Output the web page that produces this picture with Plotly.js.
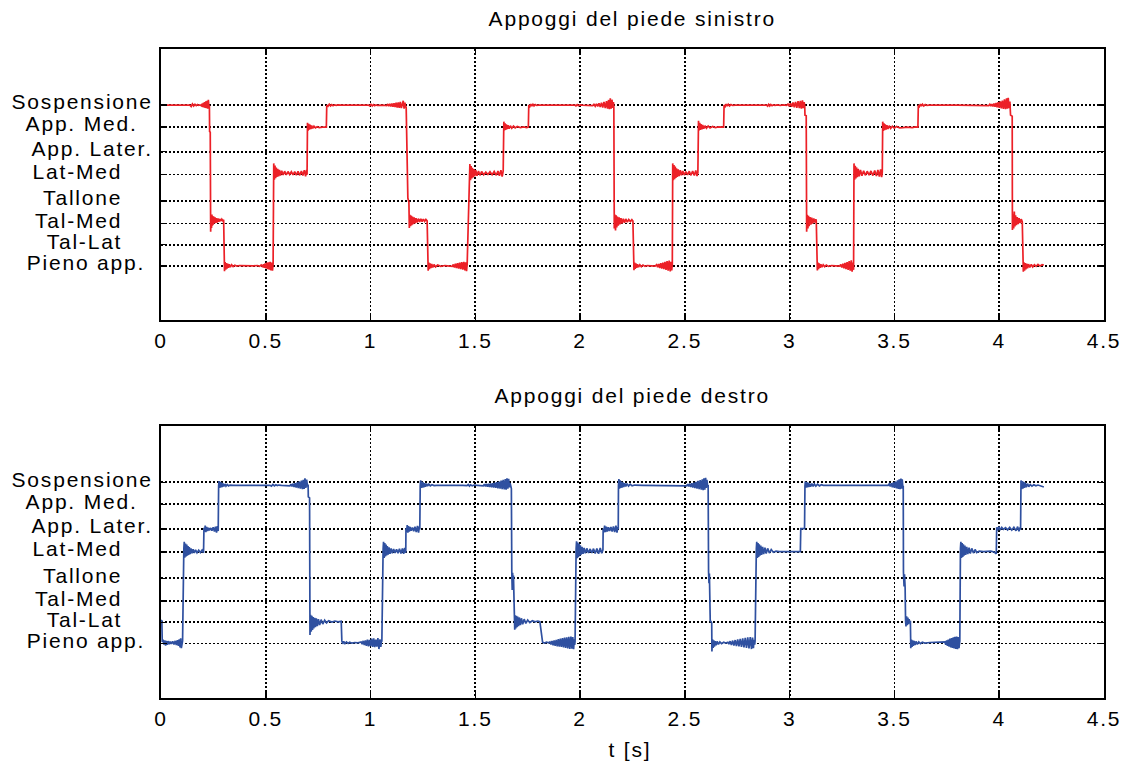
<!DOCTYPE html>
<html><head><meta charset="utf-8">
<script src="https://cdn.plot.ly/plotly-3.0.1.min.js"></script>
<style>
html,body{margin:0;padding:0;background:#fff;}
#chart{width:1133px;height:765px;}
#chart .main-svg text{letter-spacing:1.8px;}
</style></head><body><div id="chart"></div>
<script>
// Support phases (y position of each category on the axis, in % of plot height)
const levelNames = ['Sospensione','App. Med.','App. Later.','Lat-Med','Tallone','Tal-Med','Tal-Lat','Pieno app.'];
const levelValues = [79.3, 71.2, 62.1, 53.7, 44.0, 35.6, 27.8, 20.0];
const xTicks = [0, 0.5, 1, 1.5, 2, 2.5, 3, 3.5, 4, 4.5];

// Left foot: [t (s), level position]
const leftFoot = [
[0,79.3],[0.138,79.3],
[0.144,78.8],[0.150,79.7],[0.156,79.0],[0.162,79.6],[0.168,79.1],[0.174,79.5],[0.180,79.2],[0.186,79.4],[0.192,79.1],
[0.196,79.8],[0.199,78.6],[0.202,80.1],[0.205,78.5],[0.208,80.4],[0.211,78.3],[0.214,80.7],[0.217,78.2],[0.220,80.9],[0.223,78.0],[0.226,81.3],[0.229,78.4],[0.231,79.2],
[0.232,69.5],[0.235,69.3],
[0.237,32.6],[0.239,38.6],[0.241,34.0],[0.243,38.9],[0.245,34.8],[0.247,38.4],[0.249,35.2],[0.252,38.2],[0.255,35.6],[0.258,37.9],[0.261,35.8],[0.264,37.6],[0.268,36.0],[0.272,37.5],[0.276,36.3],[0.280,37.3],[0.285,36.5],[0.290,37.2],[0.295,36.6],[0.299,37.0],
[0.301,21.0],[0.303,18.0],[0.306,21.4],[0.309,18.6],[0.312,21.0],[0.315,19.0],[0.318,20.8],[0.322,19.3],[0.326,20.6],[0.331,19.5],[0.337,20.4],[0.344,19.7],[0.352,20.2],[0.362,19.9],[0.375,20.1],[0.40,20.0],[0.44,20.0],[0.46,20.1],[0.47,19.8],[0.478,20.3],
[0.485,19.6],[0.489,20.6],[0.493,19.3],[0.497,20.9],[0.501,19.1],[0.505,21.2],[0.509,18.8],[0.513,21.3],[0.517,18.6],[0.521,21.5],[0.525,18.3],[0.529,21.2],[0.532,18.2],[0.535,20.8],
[0.538,57.8],[0.541,51.8],[0.544,57.0],[0.547,52.3],[0.550,56.3],[0.553,52.8],[0.557,55.8],[0.561,53.0],[0.565,55.4],[0.570,53.3],[0.576,55.1],[0.583,53.5],[0.590,54.9],[0.598,53.6],[0.606,54.8],[0.614,53.7],[0.622,54.7],[0.630,53.6],[0.638,54.8],[0.646,53.5],[0.654,54.9],[0.662,53.4],[0.670,55.0],[0.677,53.3],[0.684,55.3],[0.690,53.0],[0.695,55.4],[0.697,53.6],
[0.699,72.8],[0.702,69.9],[0.705,72.4],[0.708,70.3],[0.711,72.1],[0.715,70.5],[0.719,71.8],[0.724,70.7],[0.730,71.5],[0.737,70.9],[0.745,71.3],[0.755,71.0],[0.770,71.2],[0.789,71.2],
[0.791,79.3],[0.797,78.9],[0.803,79.6],[0.809,79.0],[0.815,79.5],[0.821,79.1],[0.828,79.4],[0.836,79.2],[0.845,79.4],[0.86,79.3],[0.95,79.3],
[0.99,79.3],[0.996,79.0],[1.002,79.6],[1.008,79.0],[1.014,79.5],[1.020,79.1],[1.026,79.4],[1.032,79.2],[1.040,79.3],[1.06,79.3],
[1.077,79.1],[1.082,79.7],[1.087,78.9],[1.092,79.8],[1.097,78.8],[1.102,79.9],[1.107,78.7],[1.112,80.0],[1.117,78.6],[1.122,80.2],[1.127,78.4],[1.132,80.3],[1.137,78.3],[1.142,80.5],[1.147,78.2],[1.152,80.6],[1.156,80.9],[1.160,78.0],[1.164,80.2],[1.168,78.6],
[1.170,78.5],[1.178,45.0],[1.183,43.5],[1.185,34.0],[1.188,38.8],[1.191,34.6],[1.194,38.5],[1.197,35.0],[1.200,38.2],[1.204,35.4],[1.208,37.9],[1.212,35.7],[1.217,37.6],[1.222,36.0],[1.228,37.4],[1.234,36.2],[1.240,37.3],[1.246,36.3],[1.252,37.2],[1.258,36.4],[1.264,37.1],[1.270,36.6],
[1.272,20.6],[1.275,18.2],[1.278,21.2],[1.281,18.8],[1.284,20.9],[1.288,19.2],[1.292,20.7],[1.297,19.4],[1.303,20.5],[1.310,19.6],[1.320,20.3],[1.335,19.8],[1.355,20.1],[1.375,20.0],
[1.390,19.8],[1.395,20.5],[1.400,19.4],[1.405,20.8],[1.410,19.2],[1.415,21.0],[1.420,19.0],[1.425,21.2],[1.430,18.8],[1.435,21.4],[1.440,18.6],[1.445,21.5],[1.450,18.3],[1.454,21.3],[1.458,18.0],[1.461,20.5],
[1.474,57.6],[1.477,51.6],[1.480,56.8],[1.483,52.2],[1.486,56.2],[1.489,52.6],[1.493,55.7],[1.497,53.0],[1.502,55.3],[1.508,53.2],[1.515,55.0],[1.522,53.4],[1.530,54.8],[1.540,53.6],[1.550,54.6],[1.560,53.7],[1.570,54.7],[1.580,53.6],[1.590,54.8],[1.600,53.4],[1.608,55.0],[1.615,53.2],[1.622,55.3],[1.628,52.9],[1.633,55.0],
[1.636,73.2],[1.639,70.0],[1.642,72.6],[1.645,70.2],[1.648,72.2],[1.652,70.5],[1.656,71.9],[1.661,70.6],[1.667,71.7],[1.674,70.8],[1.682,71.6],[1.690,70.9],[1.700,71.4],[1.715,71.0],[1.730,71.3],[1.745,71.0],[1.753,71.2],
[1.755,79.3],[1.760,78.8],[1.765,79.7],[1.770,78.9],[1.775,79.6],[1.780,79.0],[1.786,79.5],[1.793,79.2],[1.80,79.3],[1.90,79.3],[1.975,79.3],[1.980,79.0],[1.986,79.5],[1.992,79.1],[2.000,79.4],[2.010,79.3],[2.040,79.3],
[2.060,79.1],[2.066,79.6],[2.072,78.9],[2.078,79.8],[2.084,78.8],[2.090,80.0],[2.096,78.6],[2.102,80.2],[2.108,78.4],[2.114,80.5],[2.120,78.2],[2.126,80.8],[2.131,78.0],[2.136,81.2],[2.140,77.8],[2.144,81.8],[2.148,78.0],[2.152,81.3],[2.156,78.3],[2.159,80.4],
[2.161,78.5],[2.163,33.8],[2.166,38.9],[2.169,33.0],[2.172,38.6],[2.175,34.2],[2.178,38.2],[2.182,34.8],[2.186,37.9],[2.190,35.3],[2.195,37.6],[2.200,35.6],[2.206,37.4],[2.212,35.9],[2.218,37.3],[2.225,36.1],[2.232,37.1],[2.240,36.3],[2.247,37.0],[2.252,36.5],
[2.254,21.0],[2.257,18.4],[2.260,21.2],[2.263,18.9],[2.266,20.9],[2.270,19.3],[2.274,20.6],[2.279,19.5],[2.285,20.4],[2.292,19.7],[2.300,20.3],[2.310,19.8],[2.320,20.1],[2.340,20.0],[2.358,19.9],
[2.365,20.4],[2.370,19.5],[2.375,20.7],[2.380,19.2],[2.385,21.0],[2.390,19.0],[2.395,21.2],[2.400,18.8],[2.405,21.5],[2.410,18.5],[2.415,21.7],[2.420,18.2],[2.425,21.9],[2.430,17.9],[2.434,21.5],[2.437,18.3],[2.440,20.4],
[2.442,57.8],[2.445,51.6],[2.448,57.2],[2.451,52.0],[2.454,56.6],[2.457,52.4],[2.460,56.0],[2.464,52.8],[2.468,55.6],[2.473,53.1],[2.478,55.3],[2.484,53.4],[2.490,55.0],[2.497,53.5],[2.505,54.8],[2.513,53.6],[2.521,54.9],[2.529,53.4],[2.537,55.0],[2.545,53.3],[2.552,55.2],[2.558,53.1],[2.562,54.4],
[2.565,73.5],[2.568,70.0],[2.571,72.8],[2.574,70.2],[2.577,72.3],[2.581,70.4],[2.585,72.0],[2.590,70.6],[2.596,71.7],[2.603,70.8],[2.611,71.6],[2.620,70.9],[2.632,71.4],[2.645,71.0],[2.660,71.3],[2.675,71.1],[2.685,71.2],
[2.687,79.3],[2.692,78.8],[2.697,79.7],[2.702,78.9],[2.707,79.6],[2.713,79.0],[2.720,79.5],[2.728,79.2],[2.74,79.3],[2.85,79.3],
[2.890,79.3],[2.895,78.9],[2.900,79.6],[2.905,79.0],[2.910,79.5],[2.916,79.1],[2.922,79.4],[2.930,79.2],[2.940,79.4],[2.955,79.2],[2.970,79.4],[2.985,79.2],
[2.992,79.7],[2.998,78.9],[3.004,80.0],[3.010,78.7],[3.016,80.3],[3.022,78.5],[3.028,80.5],[3.034,78.3],[3.040,80.8],[3.046,78.2],[3.051,80.9],[3.056,78.0],[3.061,81.1],[3.065,78.2],[3.069,80.4],[3.072,79.0],
[3.073,75.6],[3.079,75.4],[3.081,32.6],[3.084,38.8],[3.087,33.8],[3.090,38.5],[3.093,34.6],[3.097,38.0],[3.101,35.2],[3.105,37.8],[3.110,35.6],[3.115,37.5],[3.120,36.0],[3.125,37.2],[3.127,36.6],
[3.129,20.8],[3.132,18.3],[3.135,21.2],[3.138,18.8],[3.141,20.9],[3.145,19.3],[3.149,20.6],[3.154,19.5],[3.160,20.4],[3.167,19.7],[3.175,20.3],[3.185,19.8],[3.200,20.1],[3.225,20.0],[3.239,19.9],
[3.244,20.5],[3.249,19.4],[3.254,20.8],[3.259,19.1],[3.264,21.1],[3.269,18.8],[3.274,21.4],[3.279,18.5],[3.284,21.7],[3.289,18.2],[3.294,22.0],[3.298,17.8],[3.302,21.2],[3.305,18.5],
[3.307,57.8],[3.310,51.8],[3.313,56.9],[3.316,52.2],[3.319,56.3],[3.323,52.7],[3.327,55.8],[3.332,53.0],[3.338,55.4],[3.345,53.2],[3.353,55.1],[3.361,53.4],[3.370,54.9],[3.379,53.5],[3.388,55.0],[3.397,53.3],[3.406,55.2],[3.414,53.1],[3.421,55.4],[3.428,52.9],[3.434,55.6],[3.439,52.7],[3.442,54.6],
[3.444,73.2],[3.447,69.8],[3.450,72.6],[3.453,70.1],[3.456,72.2],[3.460,70.3],[3.464,71.9],[3.469,70.5],[3.475,71.7],[3.482,70.7],[3.490,71.5],[3.499,70.8],[3.510,71.4],[3.525,70.9],[3.540,71.0],[3.560,71.2],[3.585,71.0],[3.600,71.3],[3.612,71.2],
[3.614,79.3],[3.619,78.8],[3.624,79.7],[3.629,78.9],[3.634,79.6],[3.640,79.0],[3.647,79.5],[3.655,79.2],[3.665,79.3],[3.80,79.3],[3.94,79.3],
[3.950,79.1],[3.955,79.6],[3.960,78.9],[3.965,79.7],[3.970,78.8],[3.975,79.9],[3.980,78.7],[3.985,80.1],[3.990,78.5],[3.995,80.4],[4.000,78.3],[4.005,80.7],[4.010,78.1],[4.015,81.0],[4.020,77.9],[4.025,81.4],[4.030,77.8],[4.035,81.8],[4.039,78.0],[4.043,82.0],[4.047,78.2],[4.051,80.6],[4.053,79.0],
[4.054,75.6],[4.062,75.2],[4.063,33.2],[4.066,39.0],[4.069,33.8],[4.072,40.0],[4.075,34.5],[4.078,38.6],[4.082,35.0],[4.086,38.0],[4.090,35.4],[4.095,37.6],[4.100,35.8],[4.105,37.2],[4.110,36.3],
[4.112,20.8],[4.115,17.8],[4.118,21.3],[4.121,18.2],[4.124,21.0],[4.127,18.7],[4.131,20.8],[4.135,19.1],[4.140,20.6],[4.146,19.4],[4.153,20.5],[4.160,19.6],[4.168,20.4],[4.176,19.8],[4.185,20.5],[4.195,19.9],[4.205,20.4],[4.213,20.3]
];

// Right foot: [t (s), level position]
const rightFoot = [
[0.000,28.6],[0.004,28.4],[0.006,20.6],[0.010,21.5],[0.014,19.6],[0.018,21.2],[0.022,19.3],[0.026,21.0],[0.030,19.6],[0.035,20.9],[0.040,19.8],[0.045,20.7],[0.050,19.9],[0.056,20.8],[0.062,19.7],[0.068,21.0],[0.073,19.5],[0.078,21.3],[0.083,19.2],[0.087,21.6],[0.091,18.6],[0.094,21.9],[0.097,18.3],[0.100,20.8],
[0.103,21.0],[0.109,55.0],[0.111,57.4],[0.114,51.6],[0.117,56.8],[0.120,52.0],[0.123,56.4],[0.126,52.3],[0.129,55.9],[0.132,52.6],[0.135,55.5],[0.139,52.9],[0.143,55.0],[0.148,53.2],[0.153,54.7],[0.159,53.3],[0.165,54.5],[0.172,53.4],[0.180,54.3],[0.188,53.5],[0.196,54.4],[0.203,53.4],
[0.205,62.6],[0.208,61.2],[0.211,63.4],[0.214,61.0],[0.218,62.9],[0.222,61.4],[0.226,62.6],[0.231,61.6],[0.237,62.5],[0.243,61.5],[0.249,62.8],[0.255,61.2],[0.260,63.0],[0.265,60.8],[0.269,63.2],[0.273,61.4],
[0.275,78.0],[0.277,79.8],[0.280,77.2],[0.283,79.5],[0.286,77.4],[0.289,79.2],[0.292,77.6],[0.296,78.9],[0.300,77.8],[0.305,78.7],[0.310,77.9],[0.316,78.5],[0.322,78.0],[0.330,78.3],[0.345,78.2],[0.45,78.2],
[0.52,78.2],[0.527,77.9],[0.534,78.5],[0.541,78.0],[0.548,78.4],[0.555,78.1],[0.562,78.3],[0.575,78.2],[0.600,78.2],
[0.615,78.0],[0.620,78.6],[0.625,77.8],[0.630,78.8],[0.635,77.6],[0.640,79.0],[0.645,77.4],[0.650,79.3],[0.655,77.2],[0.660,79.6],[0.665,77.0],[0.670,79.9],[0.675,76.8],[0.679,80.2],[0.683,76.9],[0.687,80.8],[0.691,77.2],[0.695,80.3],[0.699,77.8],[0.702,78.5],
[0.703,74.0],[0.709,73.6],[0.711,23.2],[0.714,30.6],[0.717,24.4],[0.720,30.2],[0.723,25.0],[0.726,29.8],[0.729,25.6],[0.733,29.5],[0.737,26.0],[0.741,29.3],[0.746,26.4],[0.751,29.0],[0.757,26.8],[0.764,28.8],[0.772,27.2],[0.781,28.6],[0.790,27.6],[0.800,28.4],[0.815,27.9],[0.830,28.3],[0.845,28.0],[0.860,28.2],
[0.863,21.0],[0.867,19.9],[0.872,20.8],[0.878,20.0],[0.885,20.6],[0.893,20.1],[0.900,20.5],[0.910,20.2],[0.925,20.4],[0.940,20.3],
[0.955,20.6],[0.960,19.8],[0.965,21.0],[0.970,19.5],[0.975,21.2],[0.980,19.2],[0.985,21.5],[0.990,19.0],[0.995,21.4],[1.000,19.1],[1.005,21.8],[1.010,18.8],[1.015,21.9],[1.020,18.7],[1.025,21.5],[1.030,18.9],[1.035,22.0],[1.040,18.0],[1.045,21.6],[1.049,18.8],[1.052,21.0],
[1.054,21.0],[1.060,55.0],[1.062,57.4],[1.065,51.5],[1.068,57.0],[1.071,52.0],[1.074,56.4],[1.077,52.4],[1.080,55.9],[1.084,52.7],[1.088,55.4],[1.093,53.0],[1.098,55.0],[1.104,53.2],[1.110,54.8],[1.117,53.3],[1.124,54.7],[1.131,53.2],[1.138,54.9],[1.145,53.1],[1.152,55.0],[1.158,53.0],[1.163,55.2],[1.168,53.4],
[1.169,62.4],[1.172,61.0],[1.175,63.6],[1.178,60.8],[1.181,63.2],[1.185,61.2],[1.189,62.9],[1.194,61.5],[1.200,62.7],[1.206,61.3],[1.212,63.0],[1.218,61.0],[1.224,63.3],[1.229,60.8],[1.233,63.0],[1.235,62.0],
[1.237,78.0],[1.239,80.0],[1.242,77.2],[1.245,79.6],[1.248,77.3],[1.251,79.3],[1.254,77.5],[1.258,79.0],[1.262,77.7],[1.267,78.8],[1.272,77.9],[1.278,78.6],[1.285,78.0],[1.293,78.4],[1.303,78.1],[1.315,78.2],[1.44,78.2],
[1.46,78.1],[1.466,78.5],[1.472,77.9],[1.478,78.4],[1.485,78.0],[1.495,78.3],[1.510,78.2],[1.530,78.2],
[1.538,78.0],[1.543,78.6],[1.548,77.8],[1.553,78.7],[1.558,77.7],[1.563,78.8],[1.568,77.6],[1.573,78.9],[1.578,77.5],[1.583,79.0],[1.588,77.4],[1.593,79.2],[1.598,77.3],[1.603,79.4],[1.608,77.1],[1.613,79.6],[1.618,77.0],[1.623,79.9],[1.628,76.8],[1.633,80.2],[1.638,76.7],[1.643,80.5],[1.647,76.6],[1.651,80.8],[1.655,77.0],[1.659,80.6],[1.663,77.4],[1.666,79.0],
[1.667,78.3],[1.672,77.0],[1.674,46.4],[1.676,39.7],[1.678,46.0],[1.680,40.2],[1.682,45.0],[1.684,33.0],[1.688,25.1],[1.690,30.4],[1.693,25.6],[1.696,30.2],[1.699,26.0],[1.702,29.9],[1.706,26.4],[1.710,29.6],[1.715,26.8],[1.720,29.3],[1.726,27.1],[1.733,29.0],[1.741,27.4],[1.750,28.7],[1.760,27.7],[1.772,28.4],[1.785,28.0],[1.798,28.3],[1.808,28.1],
[1.821,20.5],[1.830,20.2],[1.840,20.5],[1.850,20.3],
[1.856,20.6],[1.861,19.7],[1.866,21.0],[1.871,19.4],[1.876,21.2],[1.881,19.2],[1.886,21.4],[1.891,19.0],[1.896,21.6],[1.901,18.9],[1.906,21.8],[1.911,18.8],[1.916,22.0],[1.921,18.6],[1.926,22.2],[1.931,18.4],[1.936,22.3],[1.941,18.2],[1.946,22.5],[1.951,18.0],[1.956,22.6],[1.961,18.1],[1.965,22.4],[1.969,17.9],[1.972,21.6],[1.974,19.5],
[1.976,20.8],[1.981,55.0],[1.983,57.6],[1.986,51.4],[1.989,57.2],[1.992,51.8],[1.995,56.7],[1.998,52.3],[2.001,56.1],[2.005,52.7],[2.009,55.6],[2.014,53.0],[2.019,55.2],[2.025,53.2],[2.032,55.0],[2.040,53.3],[2.048,54.8],[2.056,53.3],[2.064,54.9],[2.072,53.1],[2.080,55.0],[2.088,53.0],[2.096,55.2],[2.103,53.2],[2.109,54.5],
[2.110,62.3],[2.113,60.9],[2.117,63.4],[2.121,61.0],[2.125,63.0],[2.130,61.2],[2.135,62.8],[2.141,61.4],[2.147,62.9],[2.153,61.2],[2.159,63.1],[2.165,61.0],[2.171,63.4],[2.176,60.8],[2.180,62.8],[2.182,62.0],
[2.183,78.0],[2.185,80.5],[2.188,77.0],[2.191,80.0],[2.194,77.2],[2.197,79.6],[2.200,77.4],[2.204,79.3],[2.208,77.6],[2.213,79.0],[2.218,77.8],[2.224,78.8],[2.231,77.9],[2.239,78.6],[2.248,78.0],[2.261,78.3],[2.300,78.2],[2.45,78.2],
[2.508,78.0],[2.513,78.6],[2.518,77.8],[2.523,78.8],[2.528,77.6],[2.533,79.0],[2.538,77.4],[2.543,79.2],[2.548,77.2],[2.553,79.5],[2.558,77.0],[2.563,79.8],[2.568,76.8],[2.573,80.1],[2.578,76.6],[2.583,80.4],[2.587,76.4],[2.591,80.8],[2.595,76.6],[2.599,81.0],[2.602,77.2],[2.605,80.2],[2.609,77.8],[2.611,78.3],
[2.613,46.4],[2.615,42.2],[2.617,45.8],[2.619,41.0],[2.621,28.4],[2.625,28.0],[2.628,27.6],[2.629,17.1],[2.632,21.6],[2.635,18.4],[2.638,21.2],[2.641,18.9],[2.645,20.9],[2.649,19.4],[2.654,20.8],[2.660,19.7],[2.667,20.6],[2.675,20.0],[2.685,20.5],[2.695,20.2],
[2.705,20.5],[2.710,19.8],[2.716,20.9],[2.722,19.5],[2.728,21.1],[2.734,19.3],[2.740,21.3],[2.746,19.1],[2.752,21.5],[2.758,19.0],[2.764,21.7],[2.770,18.8],[2.776,21.9],[2.782,18.6],[2.788,22.1],[2.794,18.4],[2.800,22.3],[2.806,18.2],[2.812,22.4],[2.818,18.0],[2.823,22.2],[2.827,18.3],[2.830,21.4],[2.833,19.6],
[2.835,21.0],[2.841,55.0],[2.843,57.4],[2.846,51.5],[2.849,57.0],[2.852,51.9],[2.855,56.5],[2.858,52.3],[2.862,56.0],[2.866,52.6],[2.871,55.6],[2.876,52.9],[2.882,55.3],[2.888,53.1],[2.895,55.0],[2.903,53.3],[2.912,54.6],[2.922,53.6],[2.935,54.0],[2.95,53.8],[3.051,53.8],
[3.053,62.3],[3.065,62.3],[3.071,62.3],
[3.073,78.0],[3.075,79.6],[3.078,77.3],[3.081,79.4],[3.084,77.4],[3.087,79.2],[3.091,77.6],[3.095,78.9],[3.100,77.7],[3.106,78.8],[3.112,77.8],[3.118,78.7],[3.125,77.9],[3.133,78.6],[3.142,78.0],[3.152,78.4],[3.160,78.2],[3.30,78.2],
[3.470,78.2],[3.475,78.7],[3.480,77.8],[3.485,79.0],[3.490,77.5],[3.495,79.3],[3.500,77.3],[3.505,79.6],[3.510,77.1],[3.515,80.0],[3.519,76.9],[3.523,80.4],[3.527,76.8],[3.531,80.7],[3.534,77.0],[3.537,80.4],[3.540,77.6],[3.542,78.0],
[3.543,46.4],[3.546,41.0],[3.548,45.5],[3.551,40.5],[3.553,28.6],[3.555,26.3],[3.558,30.0],[3.561,26.8],[3.564,29.6],[3.567,27.2],[3.570,29.0],[3.573,27.6],[3.576,28.4],
[3.578,18.3],[3.581,21.5],[3.584,18.8],[3.587,21.2],[3.590,19.2],[3.594,21.0],[3.598,19.5],[3.603,20.8],[3.609,19.7],[3.616,20.6],[3.624,20.0],[3.633,20.5],[3.645,20.2],[3.670,20.4],[3.72,20.4],
[3.741,20.6],[3.745,19.6],[3.749,21.2],[3.753,19.2],[3.757,21.5],[3.761,18.9],[3.765,21.8],[3.769,18.6],[3.773,22.0],[3.777,18.4],[3.781,22.3],[3.785,18.2],[3.789,22.5],[3.793,18.0],[3.797,22.6],[3.801,17.9],[3.805,22.4],[3.808,18.3],[3.811,21.0],
[3.812,21.0],[3.815,55.0],[3.817,57.4],[3.820,51.5],[3.823,57.0],[3.826,51.9],[3.829,56.5],[3.832,52.3],[3.836,56.0],[3.840,52.6],[3.845,55.6],[3.850,52.9],[3.856,55.3],[3.862,53.1],[3.869,55.0],[3.877,53.3],[3.885,54.6],[3.892,53.5],[3.905,54.0],[3.925,53.8],[3.960,54.0],[3.975,53.7],[3.986,53.0],
[3.988,62.8],[3.992,61.6],[3.998,63.0],[4.004,61.8],[4.012,62.7],[4.020,62.0],[4.030,62.6],[4.040,61.8],[4.050,62.7],[4.060,61.7],[4.070,62.8],[4.080,61.5],[4.088,63.0],[4.094,61.3],[4.098,62.4],
[4.102,62.3],[4.104,80.0],[4.107,76.8],[4.110,79.8],[4.113,77.0],[4.116,79.5],[4.120,77.3],[4.124,79.2],[4.129,77.5],[4.135,78.8],[4.141,77.7],[4.148,78.5],[4.156,77.9],[4.165,78.4],[4.175,78.0],[4.185,78.3],[4.195,78.1],[4.205,78.0],[4.213,77.6]
];

const FONT = 'Liberation Sans, Arial, Helvetica, sans-serif';
const maxLen = Math.max(...levelNames.map(s => s.length));
const paddedNames = levelNames.map(s => s + '\u00a0'.repeat(maxLen - s.length));

const axisBase = {
  showline: true, linecolor: '#000', linewidth: 2, mirror: 'ticks',
  ticks: 'inside', ticklen: 6, tickwidth: 1.5, tickcolor: '#000',
  showgrid: true, gridcolor: '#000', gridwidth: 1.8, griddash: '2px,2px',
  zeroline: false, automargin: false, fixedrange: true,
  tickfont: {family: FONT, size: 21, color: '#000'}
};
const xBase = Object.assign({}, axisBase, {range: [0, 4.5], tickmode: 'array', tickvals: xTicks, ticklabelstandoff: 1});
const yBase = Object.assign({}, axisBase, {range: [0, 100], tickmode: 'array', tickvals: levelValues, ticktext: paddedNames, ticklabelstandoff: 2, ticklabelshift: -3});

const traces = [
  {x: leftFoot.map(p => p[0]), y: leftFoot.map(p => p[1]), xaxis: 'x', yaxis: 'y', type: 'scatter', mode: 'lines',
   line: {color: '#ec2027', width: 1.7}, hoverinfo: 'skip'},
  {x: rightFoot.map(p => p[0]), y: rightFoot.map(p => p[1]), xaxis: 'x2', yaxis: 'y2', type: 'scatter', mode: 'lines',
   line: {color: '#2f50a0', width: 1.7}, hoverinfo: 'skip'}
];

const layout = {
  width: 1133, height: 765,
  margin: {l: 0, r: 0, t: 0, b: 0},
  paper_bgcolor: '#fff', plot_bgcolor: '#fff',
  showlegend: false,
  font: {family: FONT, size: 21, color: '#000'},
  xaxis: Object.assign({}, xBase, {domain: [0.1421, 0.9744], anchor: 'y'}),
  yaxis: Object.assign({}, yBase, {domain: [0.5817, 0.9359], anchor: 'x'}),
  xaxis2: Object.assign({}, xBase, {domain: [0.1421, 0.9744], anchor: 'y2'}),
  yaxis2: Object.assign({}, yBase, {domain: [0.0876, 0.4431], anchor: 'x2'}),
  annotations: [
    {text: 'Appoggi del piede sinistro', xref: 'paper', yref: 'paper', x: 0.558, y: 1 - 18/765,
     xanchor: 'center', yanchor: 'middle', showarrow: false, font: {family: FONT, size: 21, color: '#000'}},
    {text: 'Appoggi del piede destro', xref: 'paper', yref: 'paper', x: 0.558, y: 1 - 395/765,
     xanchor: 'center', yanchor: 'middle', showarrow: false, font: {family: FONT, size: 21, color: '#000'}},
    {text: 't [s]', xref: 'paper', yref: 'paper', x: 0.556, y: 1 - 749/765,
     xanchor: 'center', yanchor: 'middle', showarrow: false, font: {family: FONT, size: 21, color: '#000'}}
  ]
};

Plotly.newPlot('chart', traces, layout, {displayModeBar: false, staticPlot: true});
</script>
</body></html>
